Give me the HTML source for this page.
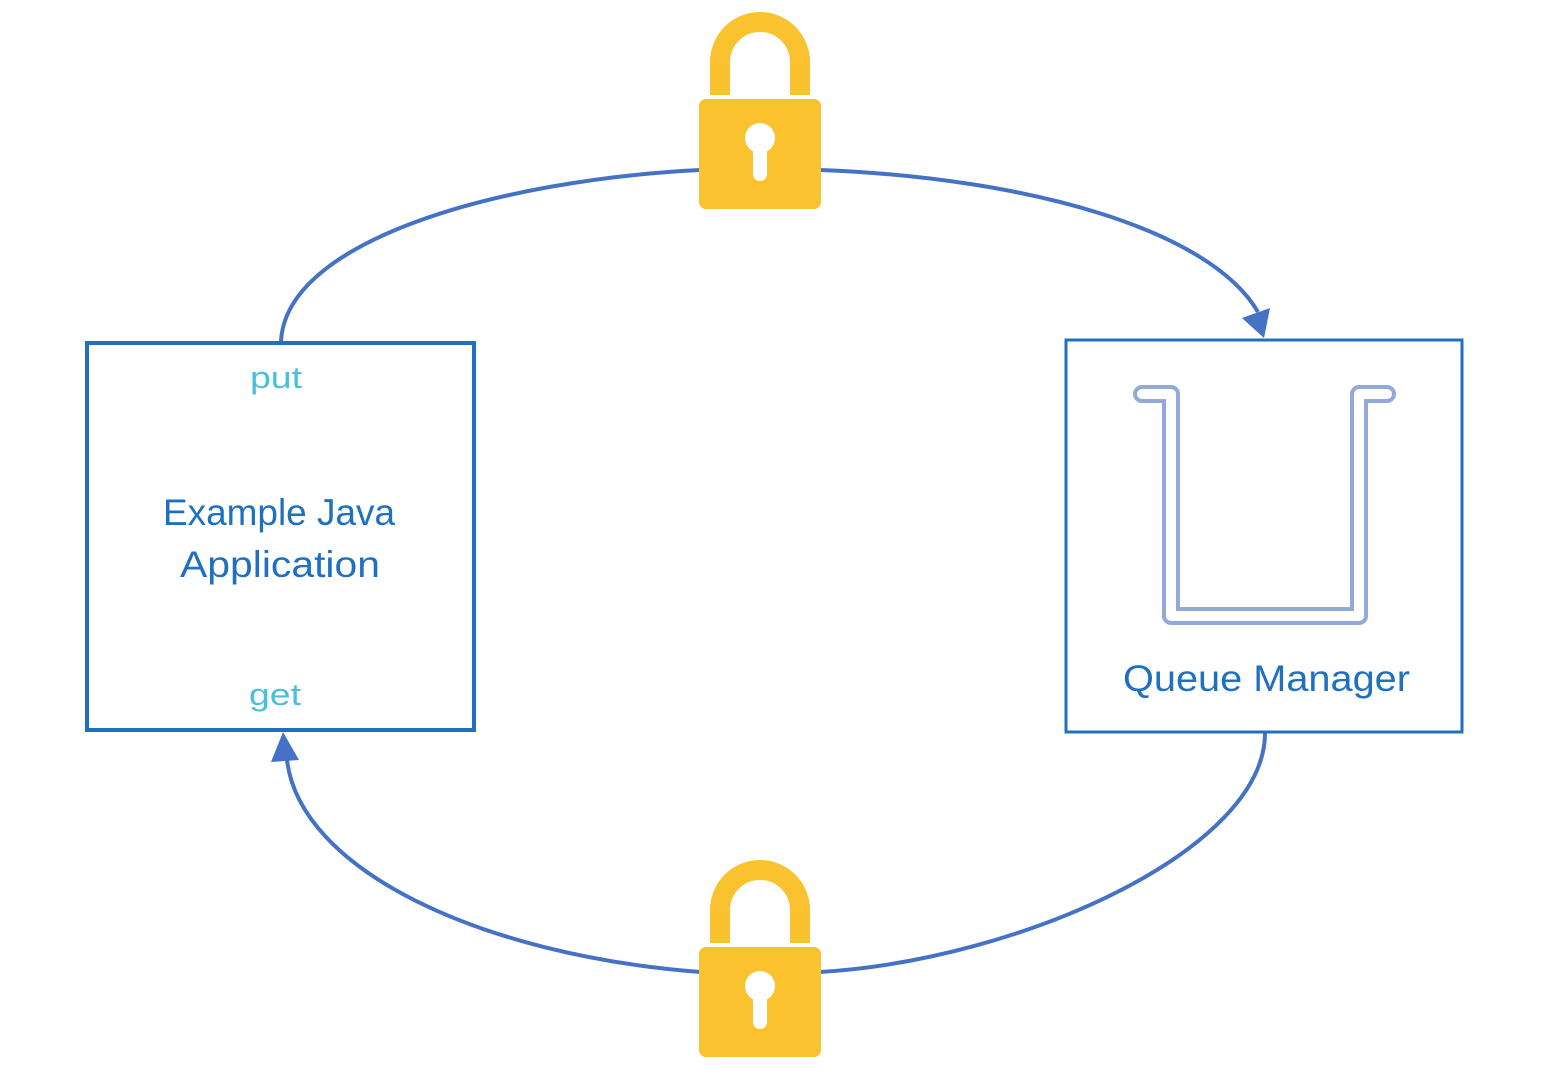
<!DOCTYPE html>
<html><head><meta charset="utf-8"><style>
html,body{margin:0;padding:0;background:#fff;width:1548px;height:1078px;overflow:hidden}
text{font-family:"Liberation Sans",sans-serif}
</style></head><body>
<svg width="1548" height="1078" viewBox="0 0 1548 1078" xmlns="http://www.w3.org/2000/svg">
<defs>
<g id="lock">
  <path d="M720,95 V62 A40,40 0 0 1 800,62 V95" fill="none" stroke="#F9C22E" stroke-width="20"/>
  <rect x="699" y="99" width="122" height="110" rx="7" fill="#F9C22E"/>
  <circle cx="760" cy="138" r="15" fill="#fff"/>
  <rect x="753" y="140" width="14" height="41" rx="7" fill="#fff"/>
</g>
</defs>
<g fill="none" stroke="#4472C4" stroke-width="4">
  <path d="M281,342 C285,240 500,180 700,170"/>
  <path d="M820,170 C1030,178 1210,230 1258,312"/>
  <path d="M1265,733 C1265,850 1020,960 820,972"/>
  <path d="M700,972 C480,955 300,870 287,760"/>
  <line x1="753" y1="167" x2="767" y2="167"/>
  <line x1="753" y1="975" x2="767" y2="975"/>
</g>
<polygon points="1242,318 1270,308 1264,338" fill="#4472C4"/>
<polygon points="271,762 283,732 299,760" fill="#4472C4"/>
<use href="#lock"/>
<use href="#lock" transform="translate(0,848)"/>
<rect x="87" y="343" width="387" height="387" fill="#fff" stroke="#1F70C1" stroke-width="4"/>
<text x="250" y="388" font-size="31" fill="#4BBFD9" textLength="52" lengthAdjust="spacingAndGlyphs">put</text>
<text x="249" y="705" font-size="31" fill="#4BBFD9" textLength="52" lengthAdjust="spacingAndGlyphs">get</text>
<text x="163" y="525" font-size="37" fill="#1F70C1" textLength="232" lengthAdjust="spacingAndGlyphs">Example Java</text>
<text x="180" y="577" font-size="37" fill="#1F70C1" textLength="200" lengthAdjust="spacingAndGlyphs">Application</text>
<rect x="1066" y="340" width="396" height="392" fill="#fff" stroke="#1F70C1" stroke-width="3"/>
<path d="M1142,394 H1171 V616 H1359 V394 H1387" fill="none" stroke="#93AAD8" stroke-width="18" stroke-linejoin="round" stroke-linecap="round"/>
<path d="M1142,394 H1171 V616 H1359 V394 H1387" fill="none" stroke="#fff" stroke-width="10" stroke-linejoin="round" stroke-linecap="round"/>
<text x="1123" y="691" font-size="37" fill="#1F70C1" textLength="287" lengthAdjust="spacingAndGlyphs">Queue Manager</text>
</svg>
</body></html>
